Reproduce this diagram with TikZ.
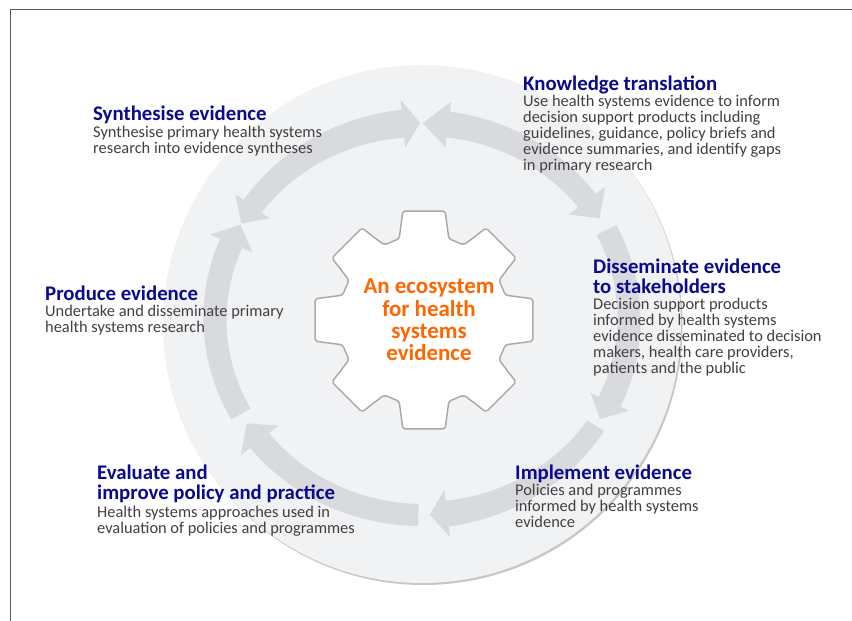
\documentclass[tikz,border=0pt]{standalone}
\usepackage{fontspec}
\setmainfont{Carlito}
\usetikzlibrary{positioning}
\definecolor{headblue}{RGB}{10,10,140}
\definecolor{bodygray}{RGB}{64,64,64}
\definecolor{ecoorange}{RGB}{255,102,0}
\definecolor{discfill}{RGB}{241,242,244}
\definecolor{ringgray}{RGB}{217,218,221}
\definecolor{gearline}{RGB}{170,170,172}
\tikzset{headtxt/.style={anchor=base west,inner sep=0pt,align=left,text=headblue,font=\fontsize{20.8}{20}\selectfont\bfseries}}
\tikzset{bodytxt/.style={anchor=base west,inner sep=0pt,align=left,text=bodygray,font=\fontsize{16.4}{16}\selectfont}}
\tikzset{ringfill/.style={fill=ringgray}}
\newcommand{\ringcx}{422}
\newcommand{\ringcy}{302}
\newcommand{\ringrx}{207}
\newcommand{\ringry}{196}
% arrow body along the ring: start angle, end angle, start width, end width
\newcommand{\ringbody}[4]{%
  \fill[ringfill] plot[domain=#1:#2,samples=40]
    ({\ringcx+(\ringrx+(#3+(#4-#3)*(\x-(#1))/((#2)-(#1)))/2)*cos(\x)},
     {\ringcy+(\ringry+(#3+(#4-#3)*(\x-(#1))/((#2)-(#1)))/2)*sin(\x)})
    -- plot[domain=#2:#1,samples=40]
    ({\ringcx+(\ringrx-(#3+(#4-#3)*(\x-(#1))/((#2)-(#1)))/2)*cos(\x)},
     {\ringcy+(\ringry-(#3+(#4-#3)*(\x-(#1))/((#2)-(#1)))/2)*sin(\x)})
    -- cycle;}
% arrow head: base angle, tip angle, half width
\newcommand{\ringhead}[3]{%
  \fill[ringfill] ({\ringcx+(\ringrx+#3)*cos(#1)},{\ringcy+(\ringry+#3)*sin(#1)})
    -- ({\ringcx+(\ringrx-#3)*cos(#1)},{\ringcy+(\ringry-#3)*sin(#1)})
    -- ({\ringcx+\ringrx*cos(#2)},{\ringcy+\ringry*sin(#2)}) -- cycle;}

\begin{document}
\begin{tikzpicture}[x=1pt,y=1pt]
\useasboundingbox (0,0) rectangle (852,621);
\fill[white] (0,0) rectangle (852,621);
\draw[line width=1pt,black!65] (10,0) -- (10,611) -- (852,611);

\fill[black!22] (423.5,295) circle (259);
\fill[discfill] (422,297) circle (259);

\ringbody{95.3}{144.9}{28}{22}
\ringhead{95.3}{90.5}{24}
\ringhead{144.9}{150.8}{21}
\ringbody{82.7}{37.2}{26}{22}
\ringhead{82.7}{89.8}{23}
\ringhead{37.2}{30.9}{23}
\ringbody{27}{-25}{22}{24}
\ringhead{-25}{-30.7}{21}
\ringbody{-33}{-83}{20}{26}
\ringhead{-83}{-87.8}{24}
\ringbody{-91}{-141.7}{22}{24}
\ringhead{-141.7}{-147.8}{24}
\ringbody{209}{157.3}{22}{24}
\ringhead{157.3}{151.3}{23}

\begin{scope}[shift={(424,301)}]
\filldraw[fill=white,draw=gearline,line width=1.5pt,rounded corners=2pt]
  (-17:85) -- (-11:111) -- (11:111) -- (17:85)
  \foreach \a in {45,90,...,315}{ -- (\a-17:85) -- (\a-11:111) -- (\a+11:111) -- (\a+17:85)} -- cycle;
\end{scope}
\node(Eco) at (429,260.3) [anchor=base,inner sep=0pt,align=center,text=ecoorange,font=\fontsize{22.9}{22.3}\selectfont\bfseries] {An ecosystem\\for health\\systems\\evidence};

\node(SynthH) at (93,500) [headtxt] {Synthesise evidence};
\node(SynthB) at (93,467.5) [bodytxt] {Synthesise primary health systems\\research into evidence syntheses};
\node(KnowH) at (523,530.3) [headtxt] {Knowledge translation};
\node(KnowB) at (523,450.3) [bodytxt] {Use health systems evidence to inform\\decision support products including\\guidelines, guidance, policy briefs and\\evidence summaries, and identify gaps\\in primary research};
\node(DissH) at (593,327.7) [headtxt] {Disseminate evidence\\to stakeholders};
\node(DissB) at (593,247) [bodytxt] {Decision support products\\informed by health systems\\evidence disseminated to decision\\makers, health care providers,\\patients and the public};
\node(ProdH) at (45,320.3) [headtxt] {Produce evidence};
\node(ProdB) at (45,288.3) [bodytxt] {Undertake and disseminate primary\\health systems research};
\node(EvalH) at (97,121) [headtxt] {Evaluate and\\improve policy and practice};
\node(EvalB) at (97,87.7) [bodytxt] {Health systems approaches used in\\evaluation of policies and programmes};
\node(ImplH) at (515,141) [headtxt] {Implement evidence};
\node(ImplB) at (515,93) [bodytxt] {Policies and programmes\\informed by health systems\\evidence};
\end{tikzpicture}
\end{document}
